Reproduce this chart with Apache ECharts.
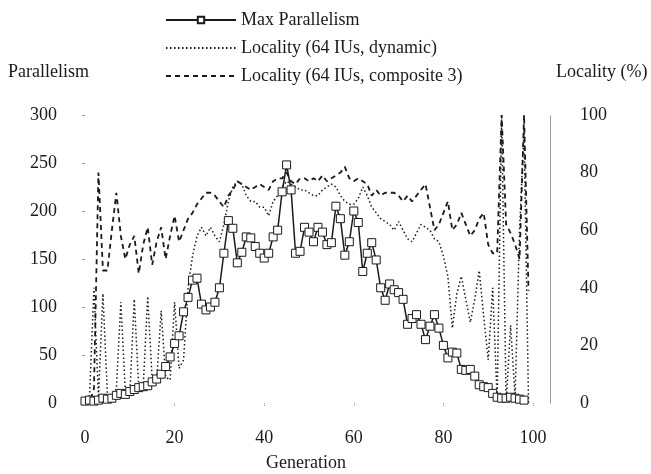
<!DOCTYPE html>
<html>
<head>
<meta charset="utf-8">
<script src="https://cdn.jsdelivr.net/npm/echarts@6/dist/echarts.min.js"></script>
<style>
  html, body { margin: 0; padding: 0; background: #fff; }
  #main { width: 651px; height: 474px; }
</style>
</head>
<body>
<div id="main"></div>
<script>
// generation ticks on the x axis
var genTicks = [0, 20, 40, 60, 80, 100]

// max parallelism per generation (0..98), left axis
var maxParallelism = [
  2, 3, 2, 3, 5, 4, 5, 8, 10, 9,
  12, 14, 16, 17, 18, 22, 25, 30, 38, 48,
  62, 70, 95, 110, 128, 130, 103, 97, 100, 105,
  120, 156, 190, 182, 146, 157, 173, 172, 163, 156,
  151, 156, 173, 180, 220, 248, 222, 156, 158, 183,
  178, 168, 183, 178, 165, 167, 205, 192, 154, 168,
  200, 188, 137, 156, 167, 149, 120, 107, 124, 118,
  115, 108, 82, 88, 92, 82, 66, 80, 92, 78,
  60, 47, 53, 52, 35, 34, 35, 28, 19, 17,
  16, 10, 6, 5, 5, 6, 5, 4, 3
]

// locality (%) with 64 IUs, dynamic, per generation (0..99), right axis
var localityDynamic = [
  0, 2, 40, 2, 38, 3, 2, 5, 35, 4,
  3, 36, 5, 6, 37, 8, 8, 32, 9, 8,
  35, 12, 15, 40, 51, 58, 61, 58, 61, 58,
  56, 62, 70, 75, 77, 76, 72, 70, 70, 68,
  68, 65, 70, 72, 75, 77, 76, 75, 74, 74,
  73, 72, 72, 74, 75, 76, 75, 72, 70, 69,
  69, 71, 75, 72, 68, 66, 64, 63, 62, 60,
  63, 60, 57, 56, 59, 62, 61, 60, 57, 56,
  51, 44, 26, 38, 44, 36, 28, 36, 46, 30,
  15, 40, 1, 100, 0, 27, 2, 60, 95, 0
]

// locality (%) with 64 IUs, composite 3, per generation (0..99), right axis
var localityComposite = [
  0, 0, 5, 80, 46, 46, 60, 73, 58, 50,
  55, 58, 45, 55, 61, 48, 56, 61, 50, 58,
  65, 56, 60, 64, 66, 69, 71, 73, 73, 72,
  70, 68, 72, 74, 77, 76, 75, 74, 75, 76,
  75, 74, 77, 78, 78, 80, 77, 76, 78, 78,
  77, 78, 77, 79, 77, 78, 79, 80, 82, 78,
  77, 78, 77, 76, 72, 74, 72, 73, 73, 73,
  72, 70, 72, 70, 72, 74, 76, 68, 60, 62,
  66, 70, 60, 62, 66, 62, 58, 60, 64, 66,
  55, 52, 52, 100, 62, 59, 55, 50, 100, 39
]

function pairs (arr) {
  return arr.map(function (v, i) { return [i, v] })
}

var font = 'Liberation Serif'
var ink = '#1a1a1a'

var chart = echarts.init(document.getElementById('main'))
chart.setOption({
  backgroundColor: '#fff',
  animation: false,
  textStyle: { fontFamily: font, color: ink },
  legend: {
    orient: 'vertical',
    left: 160,
    top: 6,
    itemWidth: 70,
    itemHeight: 8,
    itemGap: 10,
    textStyle: { fontFamily: font, fontSize: 18, color: ink },
    data: [
      { name: 'Max Parallelism' },
      { name: 'Locality (64 IUs, dynamic)', itemStyle: { opacity: 0 } },
      { name: 'Locality (64 IUs, composite 3)', itemStyle: { opacity: 0 } }
    ]
  },
  grid: { left: 85, right: 118, top: 115, bottom: 71 },
  graphic: [
    { type: 'text', left: 8, top: 63, style: { text: 'Parallelism', font: '18px ' + font, fill: ink } },
    { type: 'text', left: 556, top: 63, style: { text: 'Locality (%)', font: '18px ' + font, fill: ink } },
    { type: 'text', left: 266, top: 454, style: { text: 'Generation', font: '18px ' + font, fill: ink } }
  ],
  xAxis: {
    type: 'value',
    min: genTicks[0],
    max: genTicks[genTicks.length - 1],
    interval: 20,
    offset: 16,
    axisLine: { show: false },
    axisTick: { show: true, length: 4, lineStyle: { color: '#999', type: 'dotted' } },
    axisLabel: { fontFamily: font, fontSize: 18, color: ink, margin: 10 },
    splitLine: { show: false }
  },
  yAxis: [
    {
      type: 'value',
      min: 0,
      max: 300,
      interval: 50,
      offset: 22,
      axisLine: { show: false },
      axisTick: { show: true, length: 3, lineStyle: { color: '#999' } },
      axisLabel: { fontFamily: font, fontSize: 18, color: ink, margin: 6 },
      splitLine: { show: false }
    },
    {
      type: 'value',
      min: 0,
      max: 100,
      interval: 20,
      offset: 17,
      position: 'right',
      axisLine: { show: true, lineStyle: { color: '#888', type: 'dotted', width: 1 } },
      axisTick: { show: false },
      axisLabel: { fontFamily: font, fontSize: 18, color: ink, margin: 30 },
      splitLine: { show: false }
    }
  ],
  series: [
    {
      name: 'Locality (64 IUs, dynamic)',
      type: 'line',
      yAxisIndex: 1,
      symbol: 'none',
      lineStyle: { color: ink, width: 1.5, type: [1.5, 2.5] },
      itemStyle: { color: ink },
      data: pairs(localityDynamic)
    },
    {
      name: 'Locality (64 IUs, composite 3)',
      type: 'line',
      yAxisIndex: 1,
      symbol: 'none',
      lineStyle: { color: ink, width: 1.8, type: [5, 4] },
      itemStyle: { color: ink },
      data: pairs(localityComposite)
    },
    {
      name: 'Max Parallelism',
      type: 'line',
      yAxisIndex: 0,
      symbol: 'rect',
      symbolSize: 8,
      lineStyle: { color: ink, width: 1.5 },
      itemStyle: { color: '#fff', borderColor: ink, borderWidth: 1 },
      data: pairs(maxParallelism)
    }
  ]
})
</script>
</body>
</html>
